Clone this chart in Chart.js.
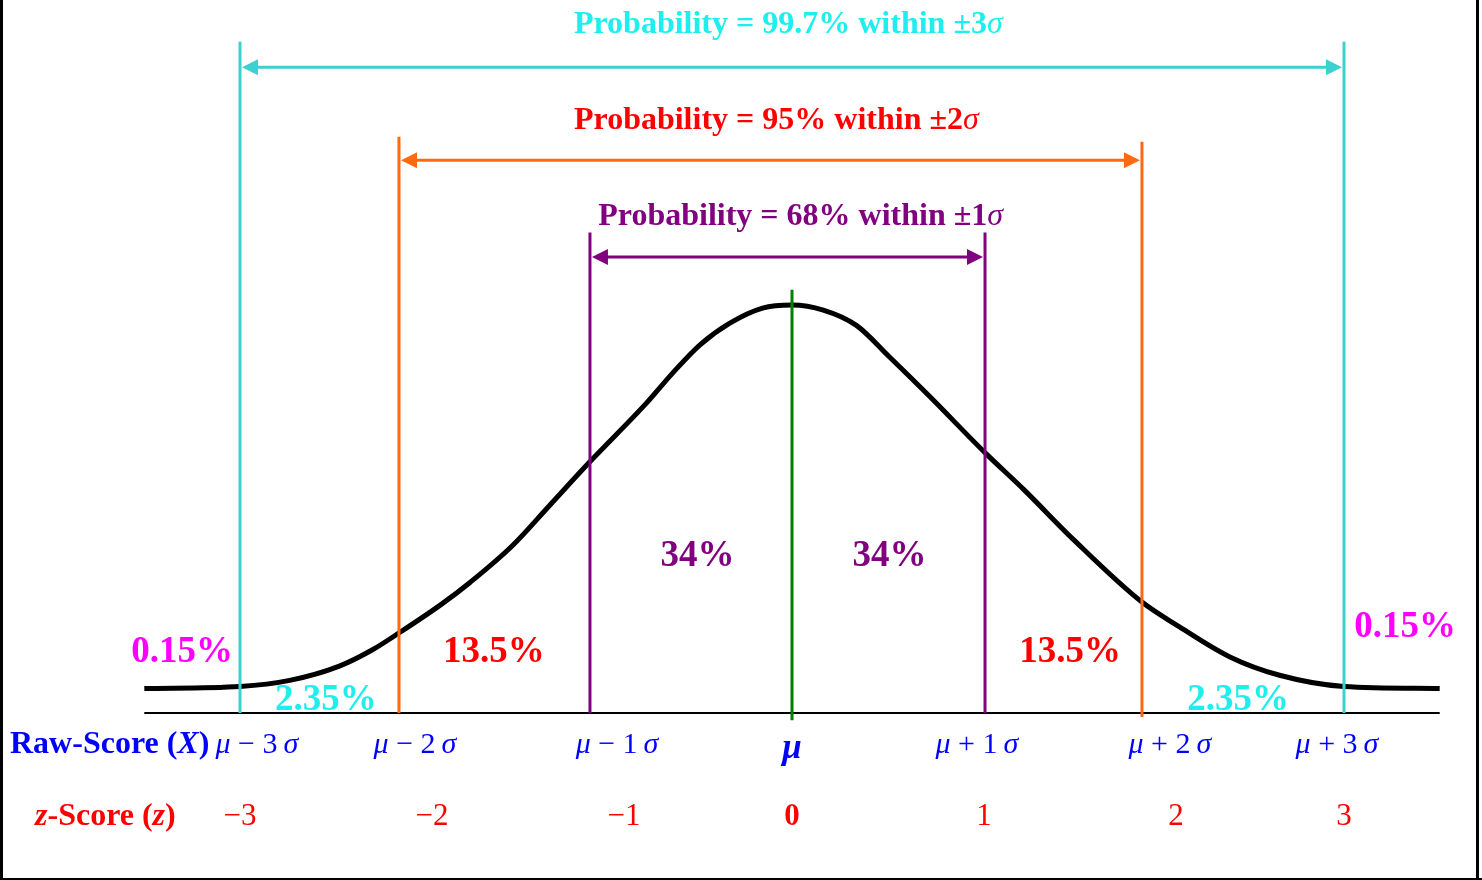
<!DOCTYPE html>
<html lang="en">
<head>
<meta charset="UTF-8">
<title>Normal Curve – Empirical Rule</title>
<script src="https://cdn.jsdelivr.net/npm/chart.js"></script>
<style>
  html, body { margin: 0; padding: 0; background: #fff; }
  #bell { display: block; }
</style>
</head>
<body>
<canvas id="bell" width="1482" height="880"></canvas>
<script>
// bell curve (z in sigma units, height in density units)
const curveZ = [-3.52,-3.00,-2.73,-2.46,-2.28,-2.14,-1.91,-1.75,-1.52,-1.32,-1.10,-0.79,-0.65,-0.50,-0.34,-0.16,0,
                0.17,0.35,0.53,0.75,1.05,1.26,1.53,1.90,2.11,2.38,2.65,3.00,3.52];
const curveD = [0.024,0.026,0.032,0.046,0.062,0.078,0.106,0.128,0.164,0.203,0.246,0.304,0.333,0.361,0.382,0.397,0.400,
                0.395,0.380,0.349,0.310,0.255,0.219,0.170,0.109,0.084,0.055,0.037,0.026,0.024];

// sigma boundaries as drawn
const bounds = [-3, -2.136, -1.098, 0, 1.049, 1.902, 3];
const zTicks = ['\u22123', '\u22122', '\u22121', '0', '1', '2', '3'];
const rawTicks = ['\u03bc \u2212 3', '\u03bc \u2212 2', '\u03bc \u2212 1', '\u03bc', '\u03bc + 1', '\u03bc + 2', '\u03bc + 3'];
const areaLabels = ['0.15%', '2.35%', '13.5%', '34%', '34%', '13.5%', '2.35%', '0.15%'];
const probLabels = ['Probability = 99.7% within \u00b13', 'Probability = 95% within \u00b12', 'Probability = 68% within \u00b11'];

const SERIF = '"Liberation Serif", "Times New Roman", serif';
const CYAN_LINE = '#3cd0d0', CYAN_TEXT = '#1eeeee', ORANGE = '#ff6a10', PURPLE = '#800080',
      GREEN = '#008000', RED = '#ff0000', BLUE = '#0000ff', MAGENTA = '#ff00ff';

function rich(ctx, parts, x, y, align) {
  let w = 0;
  parts.forEach(p => { ctx.font = p.f; w += ctx.measureText(p.t).width; });
  let cx = align === 'left' ? x : x - w / 2;
  ctx.textAlign = 'left';
  ctx.textBaseline = 'alphabetic';
  parts.forEach(p => {
    ctx.font = p.f; ctx.fillStyle = p.c;
    ctx.fillText(p.t, cx, y);
    cx += ctx.measureText(p.t).width;
  });
}

function arrowHead(ctx, x, y, dir, color) {
  ctx.fillStyle = color;
  ctx.beginPath();
  ctx.moveTo(x, y);
  ctx.lineTo(x + dir * 16, y - 8);
  ctx.lineTo(x + dir * 16, y + 8);
  ctx.closePath();
  ctx.fill();
}

const annotations = {
  id: 'annotations',
  afterDatasetsDraw(chart) {
    const ctx = chart.ctx;
    const X = v => chart.scales.x.getPixelForValue(v);
    const Y = v => chart.scales.y.getPixelForValue(v);
    ctx.save();

    // vertical sigma lines
    const vlines = [
      [0, CYAN_LINE, 0.658, 0], [6, CYAN_LINE, 0.658, 0],
      [1, ORANGE, 0.565, 0], [5, ORANGE, 0.560, -0.004],
      [2, PURPLE, 0.471, 0], [4, PURPLE, 0.471, 0],
      [3, GREEN, 0.415, -0.007]
    ];
    vlines.forEach(([i, c, top, bot]) => {
      ctx.strokeStyle = c; ctx.lineWidth = 3;
      ctx.beginPath(); ctx.moveTo(X(bounds[i]), Y(top)); ctx.lineTo(X(bounds[i]), Y(bot)); ctx.stroke();
    });

    // double arrows
    const brackets = [[0, 6, 0.633, CYAN_LINE], [1, 5, 0.542, ORANGE], [2, 4, 0.447, PURPLE]];
    brackets.forEach(([a, b, lvl, c]) => {
      const x1 = X(bounds[a]) + 2, x2 = X(bounds[b]) - 2, y = Y(lvl);
      ctx.strokeStyle = c; ctx.lineWidth = 3;
      ctx.beginPath(); ctx.moveTo(x1 + 10, y); ctx.lineTo(x2 - 10, y); ctx.stroke();
      arrowHead(ctx, x1, y, 1, c);
      arrowHead(ctx, x2, y, -1, c);
    });

    // probability headings
    const bT = 'bold 32px ' + SERIF, iT = 'italic 32px ' + SERIF;
    const headCol = [CYAN_TEXT, RED, PURPLE];
    const headPos = [[-0.02, 0.6667], [-0.085, 0.5725], [0.047, 0.4784]];
    probLabels.forEach((t, i) => {
      rich(ctx, [{ t, f: bT, c: headCol[i] }, { t: '\u03c3', f: iT, c: headCol[i] }],
           X(headPos[i][0]), Y(headPos[i][1]), 'center');
    });

    // area percentages
    const bP = 'bold 37px ' + SERIF;
    const areaPos = [[-3.315, 0.050], [-2.533, 0.003], [-1.620, 0.050], [-0.514, 0.144],
                     [0.530, 0.144], [1.511, 0.050], [2.424, 0.003], [3.332, 0.0745]];
    const areaCol = [MAGENTA, CYAN_TEXT, RED, PURPLE, PURPLE, RED, CYAN_TEXT, MAGENTA];
    areaLabels.forEach((t, i) => {
      rich(ctx, [{ t, f: bP, c: areaCol[i] }], X(areaPos[i][0]), Y(areaPos[i][1]), 'center');
    });

    // row titles
    const bR = 'bold 32px ' + SERIF, biR = 'bold italic 32px ' + SERIF;
    rich(ctx, [{ t: 'Raw-Score (', f: bR, c: BLUE }, { t: 'X', f: biR, c: BLUE }, { t: ')', f: bR, c: BLUE }],
         X(-4.25), Y(-0.0392), 'left');
    rich(ctx, [{ t: 'z', f: biR, c: RED }, { t: '-Score (', f: bR, c: RED }, { t: 'z', f: biR, c: RED }, { t: ')', f: bR, c: RED }],
         X(-4.114), Y(-0.1098), 'left');

    // raw score ticks
    const nT = '30px ' + SERIF, iN = 'italic 30px ' + SERIF;
    const rawPos = [-2.908, -2.049, -0.951, 0, 1.005, 2.054, 2.962];
    rawTicks.forEach((t, i) => {
      if (i === 3) {
        rich(ctx, [{ t, f: 'bold italic 35px ' + SERIF, c: BLUE }], X(rawPos[i]), Y(-0.0441), 'center');
      } else {
        rich(ctx, [{ t: t.slice(0, 1), f: iN, c: BLUE }, { t: t.slice(1) + '\u2009', f: nT, c: BLUE },
                   { t: '\u03c3', f: iN, c: BLUE }], X(rawPos[i]), Y(-0.0392), 'center');
      }
    });

    // z ticks
    const zPos = [-3, -1.957, -0.913, 0, 1.043, 2.087, 3];
    zTicks.forEach((t, i) => {
      rich(ctx, [{ t, f: (i === 3 ? 'bold ' : '') + '31px ' + SERIF, c: RED }], X(zPos[i]), Y(-0.1098), 'center');
    });

    // frame
    ctx.strokeStyle = '#000';
    ctx.lineWidth = 3;
    ctx.beginPath(); ctx.moveTo(1.5, 0); ctx.lineTo(1.5, 880); ctx.stroke();
    ctx.beginPath(); ctx.moveTo(1477.5, 0); ctx.lineTo(1477.5, 880); ctx.stroke();
    ctx.lineWidth = 2;
    ctx.beginPath(); ctx.moveTo(0, 879); ctx.lineTo(1482, 879); ctx.stroke();
    ctx.restore();
  }
};

const curvePts = curveZ.map((z, i) => ({ x: z, y: curveD[i] }));
const axisPts = [{ x: curveZ[0], y: 0 }, { x: curveZ[curveZ.length - 1], y: 0 }];

new Chart(document.getElementById('bell'), {
  type: 'line',
  data: {
    datasets: [
      { data: curvePts, borderColor: '#000', borderWidth: 5, pointRadius: 0,
        cubicInterpolationMode: 'monotone', fill: false },
      { data: axisPts, borderColor: '#000', borderWidth: 2, pointRadius: 0, fill: false }
    ]
  },
  options: {
    responsive: false,
    animation: false,
    layout: { padding: 0 },
    plugins: { legend: { display: false }, tooltip: { enabled: false } },
    scales: {
      x: { type: 'linear', display: false, min: -792 / 184, max: 690 / 184 },
      y: { type: 'linear', display: false, min: -167 / 1020, max: 713 / 1020 }
    }
  },
  plugins: [annotations]
});
</script>
</body>
</html>
